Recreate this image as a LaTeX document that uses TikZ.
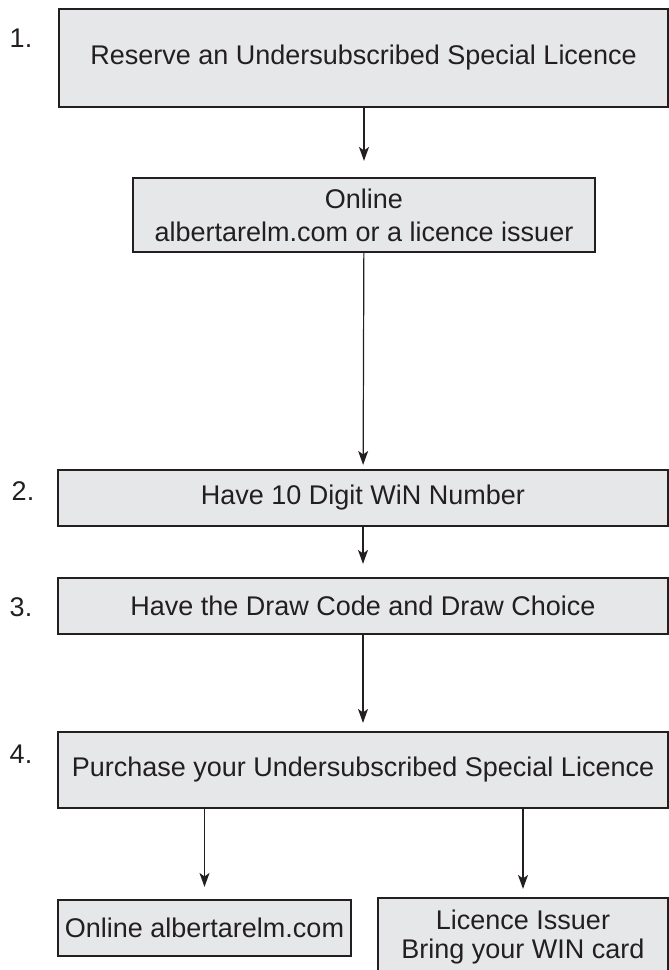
\documentclass[tikz,border=0pt]{standalone}
\usepackage{fontspec}
\setmainfont{Liberation Sans}
\usetikzlibrary{arrows.meta}
\definecolor{boxgray}{HTML}{E6E7E8}
\definecolor{ink}{HTML}{231F20}

\begin{document}
\begin{tikzpicture}[x=0.5pt,y=-0.5pt,
	font=\fontsize{13.5pt}{16.5pt}\selectfont,
	stepbox/.style={rectangle,draw=ink,fill=boxgray,line width=1.1pt,text=ink,inner sep=0pt,align=center},
	num/.style={text=ink,inner sep=0pt},
	flow/.style={draw=ink,line width=0.6pt,-{Stealth[length=7pt,width=5pt,inset=1.8pt]},shorten >=4pt}]

		\useasboundingbox (0,0) rectangle (669,970);

		\node[num] (n1) at (21,38) {1.};
		\node[num] (n2) at (23,491) {2.};
		\node[num] (n3) at (21,607) {3.};
		\node[num] (n4) at (21,754) {4.};

		\node[stepbox,minimum width=304.5pt,minimum height=49pt] (reserve) at (363.5,58)
			{Reserve an Undersubscribed Special Licence};
		\node[stepbox,minimum width=231pt,minimum height=37pt] (online) at (364,215)
			{Online\\albertarelm.com or a licence issuer};
		\node[stepbox,minimum width=305pt,minimum height=28pt] (win) at (363,498)
			{Have 10 Digit WiN Number};
		\node[stepbox,minimum width=305pt,minimum height=28pt] (draw) at (363,606)
			{Have the Draw Code and Draw Choice};
		\node[stepbox,minimum width=305pt,minimum height=38pt] (purchase) at (363,770)
			{Purchase your Undersubscribed Special Licence};
		\node[stepbox,minimum width=146.5pt,minimum height=28pt] (web) at (204.5,928)
			{Online albertarelm.com};
		\node[stepbox,minimum width=145pt,minimum height=39.5pt] (issuer) at (523,937.5)
			{Licence Issuer\\[-2pt]Bring your WIN card};

		\path[flow,shorten >=8pt] (reserve.south -| online.north) -- (online.north);
		\path[flow,shorten >=2pt] (online) -- (win);
		\path[flow,shorten >=6.5pt] (win) -- (draw);
		\path[flow] (draw) -- (purchase);
		\path[flow,shorten >=6pt] (purchase.south -| web.north) -- (web.north);
		\path[flow] (purchase.south -| issuer.north) -- (issuer.north);

	\end{tikzpicture}
\end{document}
